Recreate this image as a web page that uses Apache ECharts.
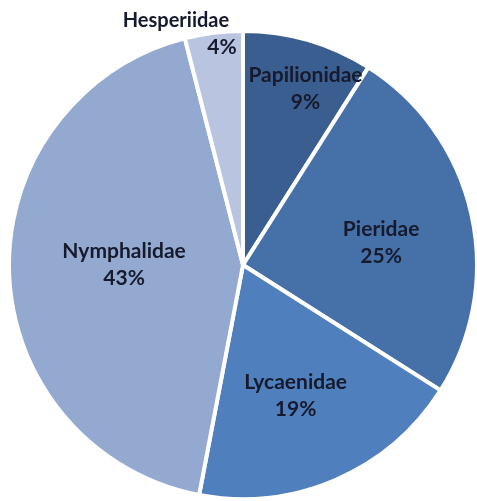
<!DOCTYPE html>
<html><head><meta charset="utf-8">
<script src="https://cdn.jsdelivr.net/npm/echarts@6/dist/echarts.min.js"></script>
<style>html,body{margin:0;padding:0;background:#fff}#c{width:477px;height:501px}</style>
</head><body><div id="c"></div>
<script>
const categories = ['Papilionidae', 'Pieridae', 'Lycaenidae', 'Nymphalidae', 'Hesperiidae'];
const values = [9, 25, 19, 43, 4];
const colors = ['#3b5e90', '#4571a8', '#4f80bd', '#94a9d0', '#b9c4e0'];
const labelOffsets = [[29, -61], [21, 4], [5, 21], [1, -4], [-6, -112]];

const txt = { fontFamily: 'Lato', fontWeight: 'bold', lineHeight: 27, color: '#161a2c' };
const chart = echarts.init(document.getElementById('c'));
chart.setOption({
  animation: false,
  series: [{
    type: 'pie',
    center: [243, 265],
    radius: [0, 234],
    startAngle: 90,
    clockwise: true,
    avoidLabelOverlap: false,
    itemStyle: { borderColor: '#fff', borderWidth: 4 },
    label: {
      show: true,
      position: 'inside',
      formatter: '{b}\n{c}%',
      fontFamily: 'Lato',
      fontWeight: 'bold',
      fontSize: 21,
      lineHeight: 27,
      color: '#161a2c',
      rich: {
        n: Object.assign({ fontSize: 20, padding: [0, 92, 0, 0] }, txt),
        p: Object.assign({ fontSize: 21 }, txt)
      }
    },
    labelLine: { show: false },
    data: categories.map((c, i) => {
      const d = {
        name: c, value: values[i],
        itemStyle: { color: colors[i] },
        label: { offset: labelOffsets[i] }
      };
      if (c === 'Hesperiidae') d.label.formatter = '{n|{b}}\n{p|{c}%}';
      return d;
    })
  }]
});
</script></body></html>
